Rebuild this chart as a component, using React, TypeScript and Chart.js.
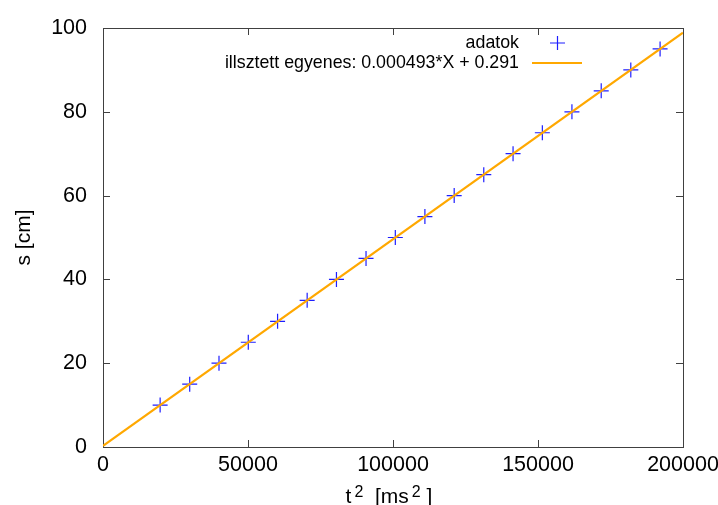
import React, { useEffect, useRef } from 'react';
import { Chart, registerables } from 'chart.js';

Chart.register(...registerables);

// t^2 values [ms^2]
const xValues = [19700, 29900, 40000, 50100, 60200, 70400, 80500, 90700, 100800, 111000, 121100, 131300, 141400, 151500, 161700, 171800, 182000, 192100];
// s values [cm]
const sValues = [10, 15, 20, 25, 30, 35, 40, 45, 50, 55, 60, 65, 70, 75, 80, 85, 90, 95];
// fitted line s = slope * X + intercept
const fitSlope = 0.000493;
const fitIntercept = 0.291;
const fitRange = [0, 200000];

const xTicks = [0, 50000, 100000, 150000, 200000];
const yTicks = [0, 20, 40, 60, 80, 100];
const legendLabels = ['adatok', 'illsztett egyenes: 0.000493*X + 0.291'];
const yTitle = 's [cm]';

const FONT = '"Liberation Sans", Arial, sans-serif';
const BLUE = 'rgb(30,30,255)';
const ORANGE = '#ffa800';
const AXIS = '#404040';

const framePlugin = {
  id: 'gnuplotFrame',
  beforeDatasetsDraw(chart: any) {
    const { ctx, chartArea: a, scales } = chart;
    const L = 7;
    ctx.save();
    ctx.strokeStyle = AXIS;
    ctx.lineWidth = 1;
    ctx.beginPath();
    for (const v of xTicks) {
      const px = Math.round(scales.x.getPixelForValue(v)) + 0.5;
      ctx.moveTo(px, a.bottom);
      ctx.lineTo(px, a.bottom - L);
      ctx.moveTo(px, a.top);
      ctx.lineTo(px, a.top + L);
    }
    for (const v of yTicks) {
      const py = Math.round(scales.y.getPixelForValue(v)) + 0.5;
      ctx.moveTo(a.left, py);
      ctx.lineTo(a.left + L, py);
      ctx.moveTo(a.right, py);
      ctx.lineTo(a.right - L, py);
    }
    ctx.stroke();
    ctx.strokeRect(Math.round(a.left) + 0.5, Math.round(a.top) + 0.5, Math.round(a.right - a.left), Math.round(a.bottom - a.top));
    ctx.restore();
  },
  afterDatasetsDraw(chart: any) {
    const { ctx } = chart;
    ctx.save();
    ctx.font = `17.8px ${FONT}`;
    ctx.fillStyle = '#000';
    ctx.textAlign = 'right';
    ctx.textBaseline = 'alphabetic';
    ctx.fillText(legendLabels[0], 519, 48);
    ctx.fillText(legendLabels[1], 519, 68);
    // marker sample
    ctx.strokeStyle = BLUE;
    ctx.lineWidth = 1.2;
    ctx.beginPath();
    ctx.moveTo(550, 43);
    ctx.lineTo(565, 43);
    ctx.moveTo(557.5, 36);
    ctx.lineTo(557.5, 50);
    ctx.stroke();
    // line sample
    ctx.strokeStyle = ORANGE;
    ctx.lineWidth = 2.2;
    ctx.beginPath();
    ctx.moveTo(532, 63);
    ctx.lineTo(582, 63);
    ctx.stroke();
    ctx.restore();
  },
  afterDraw(chart: any) {
    const { ctx, chartArea: a } = chart;
    // x axis title: t^2 [ms^2]
    const big = `21px ${FONT}`;
    const small = `16px ${FONT}`;
    const parts: [string, boolean, number][] = [
      ['t', false, 3],
      ['2', true, 0],
      ['  [ms', false, 3],
      ['2', true, 0],
      [' ]', false, 0],
    ];
    ctx.save();
    ctx.fillStyle = '#000';
    ctx.textBaseline = 'alphabetic';
    ctx.textAlign = 'left';
    let total = 0;
    for (const [t, sup, gap] of parts) {
      ctx.font = sup ? small : big;
      total += ctx.measureText(t).width + gap;
    }
    let x = (a.left + a.right) / 2 - total / 2 - 4;
    const base = 503;
    for (const [t, sup, gap] of parts) {
      ctx.font = sup ? small : big;
      ctx.fillText(t, x, sup ? base - 6 : base);
      x += ctx.measureText(t).width + gap;
    }
    ctx.restore();
  },
};

export default function App() {
  const ref = useRef<HTMLCanvasElement | null>(null);
  useEffect(() => {
    document.body.style.margin = '0';
    const canvas = ref.current;
    if (!canvas) return;
    const points = xValues.map((x, i) => ({ x, y: sValues[i] }));
    const fitLine = fitRange.map((x) => ({ x, y: fitSlope * x + fitIntercept }));
    const chart = new Chart(canvas, {
      type: 'scatter',
      data: {
        datasets: [
          {
            type: 'line',
            label: legendLabels[1],
            data: fitLine,
            borderColor: ORANGE,
            borderWidth: 2.2,
            pointRadius: 0,
            fill: false,
            order: 1,
          } as any,
          {
            type: 'scatter',
            label: legendLabels[0],
            data: points,
            pointStyle: 'cross',
            pointRadius: 7.5,
            pointBorderColor: BLUE,
            borderColor: BLUE,
            pointBorderWidth: 1.2,
            borderWidth: 1.2,
            order: 2,
          } as any,
        ],
      },
      options: {
        animation: false,
        responsive: false,
        devicePixelRatio: 1,
        layout: { padding: { top: 28, right: 35, left: 0, bottom: 0 } },
        plugins: { legend: { display: false }, tooltip: { enabled: false } },
        scales: {
          x: {
            type: 'linear',
            min: 0,
            max: 200000,
            grid: { display: false, drawTicks: false },
            border: { display: false },
            title: { display: false },
            ticks: {
              color: '#000',
              font: { family: FONT, size: 21.5 },
              padding: 5,
              maxRotation: 0,
              autoSkip: false,
              callback: (v: any) => String(v),
            },
            afterBuildTicks: (s: any) => {
              s.ticks = xTicks.map((value) => ({ value }));
            },
            afterFit: (s: any) => {
              s.height = 58;
              s.paddingLeft = 0;
              s.paddingRight = 0;
            },
          },
          y: {
            type: 'linear',
            min: 0,
            max: 100,
            grid: { display: false, drawTicks: false },
            border: { display: false },
            title: {
              display: true,
              text: yTitle,
              color: '#000',
              font: { family: FONT, size: 21 },
              padding: { top: 12, bottom: 0 },
            },
            ticks: {
              color: '#000',
              font: { family: FONT, size: 21.5 },
              padding: 16,
              autoSkip: false,
              callback: (v: any) => String(v),
            },
            afterBuildTicks: (s: any) => {
              s.ticks = yTicks.map((value) => ({ value }));
            },
            afterFit: (s: any) => {
              s.width = 103;
              s.paddingTop = 0;
              s.paddingBottom = 0;
            },
          },
        },
      },
      plugins: [framePlugin],
    });
    return () => chart.destroy();
  }, []);
  return (
    <div style={{ width: 718, height: 505, background: '#fff' }}>
      <canvas ref={ref} width={718} height={505} style={{ display: 'block' }} />
    </div>
  );
}
